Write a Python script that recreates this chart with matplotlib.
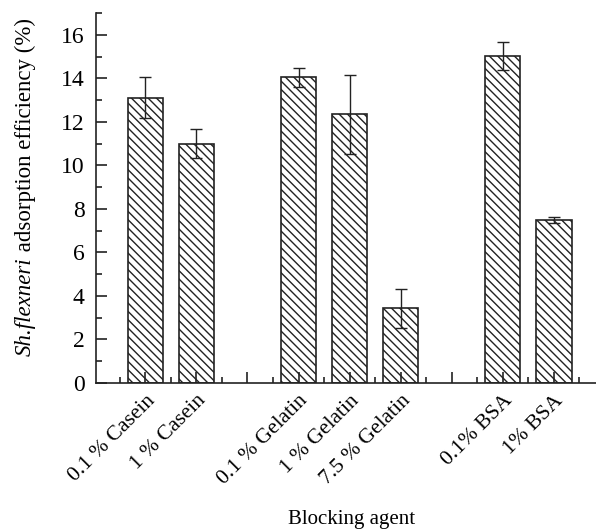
"""Bar chart of Sh. flexneri adsorption efficiency for different blocking agents."""

import matplotlib
matplotlib.use("Agg")
import matplotlib.pyplot as plt
from matplotlib.ticker import MultipleLocator

plt.rcParams['font.family'] = ['Liberation Serif', 'DejaVu Serif']
plt.rcParams['hatch.linewidth'] = 1.0

# --- data ---
labels = ["0.1 % Casein", "1 % Casein",
          "0.1 % Gelatin", "1 % Gelatin", "7.5 % Gelatin",
          "0.1% BSA", "1% BSA"]
positions = [1, 2, 4, 5, 6, 8, 9]
efficiency = [13.1, 11.0, 14.05, 12.35, 3.42, 15.02, 7.5]
errors = [0.94, 0.68, 0.44, 1.82, 0.9, 0.63, 0.14]

fig = plt.figure(figsize=(5.96, 5.31), dpi=100)
ax = fig.add_axes([0.161, 0.279, 0.839, 0.6965])

ax.bar(positions, efficiency, width=0.7, color='white', edgecolor='#222222',
       linewidth=1.2, hatch='\\\\\\\\')
ax.errorbar(positions, efficiency, yerr=errors, fmt='none', ecolor='#222222',
            elinewidth=1.0, capsize=4, capthick=1.0)

ax.set_xlim(0.03, 9.83)
ax.set_ylim(0, 17)

ax.yaxis.set_major_locator(MultipleLocator(2))
ax.yaxis.set_minor_locator(MultipleLocator(1))
ax.set_xticks(range(1, 10))
ax.set_xticks([i + 0.5 for i in range(0, 10)], minor=True)
tick_text = []
for p in range(1, 10):
    tick_text.append(labels[positions.index(p)] if p in positions else "")
ax.set_xticklabels(tick_text, rotation=45, ha='right', rotation_mode='anchor',
                   fontsize=15.5)

ax.tick_params(axis='both', which='major', direction='in', length=8,
               width=1.2, color='#222222')
ax.tick_params(axis='y', which='major', labelsize=17, pad=8)
ax.tick_params(axis='both', which='minor', direction='in', length=4,
               width=1.2, color='#222222')
ax.tick_params(axis='x', which='major', pad=6)

ax.spines[["top", "right"]].set_visible(False)
ax.spines[["left", "bottom"]].set_linewidth(1.2)
ax.spines[["left", "bottom"]].set_color('#222222')

# x label placed directly below the rotated tick labels
fig.text(352 / 596, 7 / 531, "Blocking agent", fontsize=15,
         ha='center', va='baseline')

# y label: italic species name followed by upright text
renderer = fig.canvas.get_renderer()
part1 = fig.text(25 / 596, 0, "Sh.flexneri", rotation=90, style='italic',
                 fontsize=16.5, ha='center', va='bottom')
part2 = fig.text(25 / 596, 0, " adsorption efficiency (%)", rotation=90,
                 fontsize=16.5, ha='center', va='bottom')
h1 = part1.get_window_extent(renderer).height
h2 = part2.get_window_extent(renderer).height
y0 = 531 - 187 - (h1 + h2) / 2
part1.set_y(y0 / 531)
part2.set_y((y0 + h1) / 531)

fig.savefig("out.png", dpi=100)
